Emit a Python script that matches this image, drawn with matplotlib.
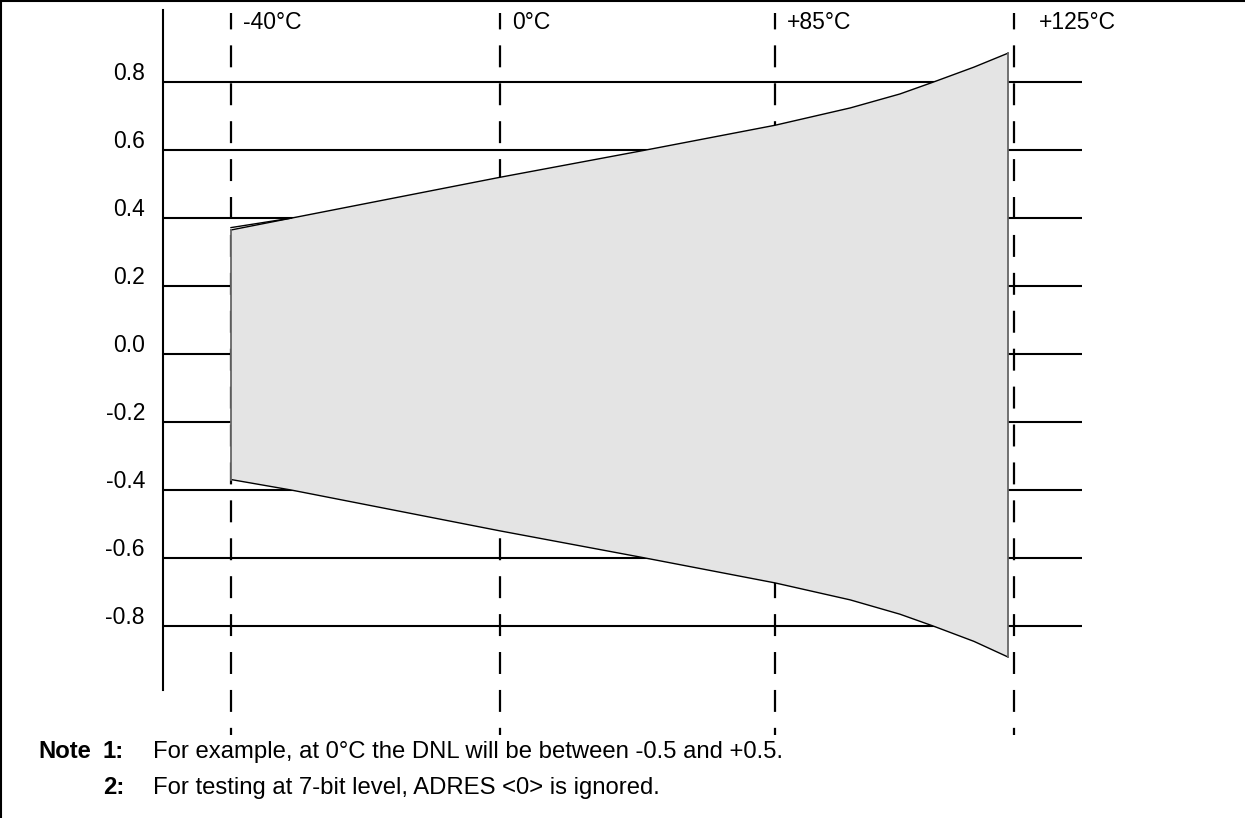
import numpy as np
import matplotlib
matplotlib.use('Agg')
import matplotlib.pyplot as plt
import matplotlib.transforms as mtransforms
from matplotlib.lines import Line2D

plt.rcParams['font.family'] = ['Liberation Sans', 'DejaVu Sans']
plt.rcParams['lines.scale_dashes'] = False

# 데이터: 온도별 DNL 범위 (LSB)
temp_marks = [-40, 0, 85, 125]
temp_labels = ['-40°C', '0°C', '+85°C', '+125°C']
y_ticks = [0.8, 0.6, 0.4, 0.2, 0.0, -0.2, -0.4, -0.6, -0.8]
y_labels = ['0.8', '0.6', '0.4', '0.2', '0.0', '-0.2', '-0.4', '-0.6', '-0.8']

band_temp = [-40, -31, 0, 45, 85, 97.6, 105.9, 111.5, 118.3, 124]
band_upper = [0.365, 0.40, 0.52, 0.60, 0.673, 0.724, 0.765, 0.80, 0.844, 0.885]
band_lower = [-0.369, -0.40, -0.52, -0.60, -0.673, -0.723, -0.765, -0.80, -0.845, -0.891]

# 시작 부분의 겹친 선
edge_temp = [-40, -31]
edge_upper = [0.372, 0.40]

# x축: 온도 위치가 균일하지 않음 (레이아웃)
scale_temp = [-50.1, -40, 0, 85, 125, 136.4]
scale_pos = [0, 68, 337, 612, 851, 919]
label_dx = [12, 12, 12, 25]

notes = [('Note', '1:', 'For example, at 0°C the DNL will be between -0.5 and +0.5.'),
         ('', '2:', 'For testing at 7-bit level, ADRES <0> is ignored.')]


def fwd(t):
    return np.interp(t, scale_temp, scale_pos)


def inv(p):
    return np.interp(p, scale_pos, scale_temp)


W, H = 1245, 818
fig = plt.figure(figsize=(W / 100, H / 100), dpi=100)
ax = fig.add_axes([163 / W, 128 / H, 919 / W, 680 / H])
ax.set_xscale('function', functions=(fwd, inv))
ax.set_xlim(scale_temp[0], scale_temp[-1])
ax.set_ylim(-0.988, 1.012)

for s in ['top', 'right', 'bottom']:
    ax.spines[s].set_visible(False)
ax.spines['left'].set_linewidth(1.5)
ax.set_xticks([])
ax.set_yticks(y_ticks)
ax.tick_params(axis='y', length=0, labelleft=False)
ax.grid(axis='y', color='black', linewidth=1.5)
ax.set_axisbelow(True)

# 점선 (온도 기준선)
for t in temp_marks:
    ax.plot([t, t], [1.003, -1.12], color='black', lw=1.6,
            linestyle=(4, (15.8, 11.5)), clip_on=False, zorder=1)

# DNL 범위
ax.fill_between(band_temp, band_lower, band_upper, facecolor='#e4e4e4',
                edgecolor='none', zorder=3)
ax.plot(band_temp, band_upper, color='black', lw=1.0, zorder=4)
ax.plot(band_temp, band_lower, color='black', lw=1.0, zorder=4)
ax.plot(edge_temp, edge_upper, color='black', lw=1.0, zorder=4)
ax.plot([band_temp[0], band_temp[0]], [band_lower[0], band_upper[0]], color='#666666', lw=1.3, zorder=4)
ax.plot([band_temp[-1], band_temp[-1]], [band_lower[-1], band_upper[-1]], color='#666666', lw=1.3, zorder=4)

# y 라벨
ytrans = mtransforms.offset_copy(ax.get_yaxis_transform(), fig=fig, x=-18, y=2, units='dots')
for v, lab in zip(y_ticks, y_labels):
    ax.text(0, v, lab, transform=ytrans, ha='right', va='baseline', fontsize=16.5)

# 온도 라벨
for t, lab, dx in zip(temp_marks, temp_labels, label_dx):
    tr = mtransforms.offset_copy(ax.transData, fig=fig, x=dx, y=0, units='dots')
    ax.text(t, 0.976, lab, transform=tr, ha='left', va='center', fontsize=16.5)

# 노트
for i, (a, b, c) in enumerate(notes):
    y = 1 - (752 + 36 * i) / H
    fig.text(38 / W, y, a, fontsize=17.2, fontweight='bold', va='center')
    fig.text(124 / W, y, b, fontsize=17.2, fontweight='bold', va='center', ha='right')
    fig.text(153 / W, y, c, fontsize=17.2, va='center')

# 테두리 (왼쪽, 위)
fig.add_artist(Line2D([1 / W, 1 / W], [0, 1], transform=fig.transFigure, color='black', lw=1.5))
fig.add_artist(Line2D([0, 1], [1 - 1 / H, 1 - 1 / H], transform=fig.transFigure, color='black', lw=1.5))

fig.savefig('out.png', dpi=100)
